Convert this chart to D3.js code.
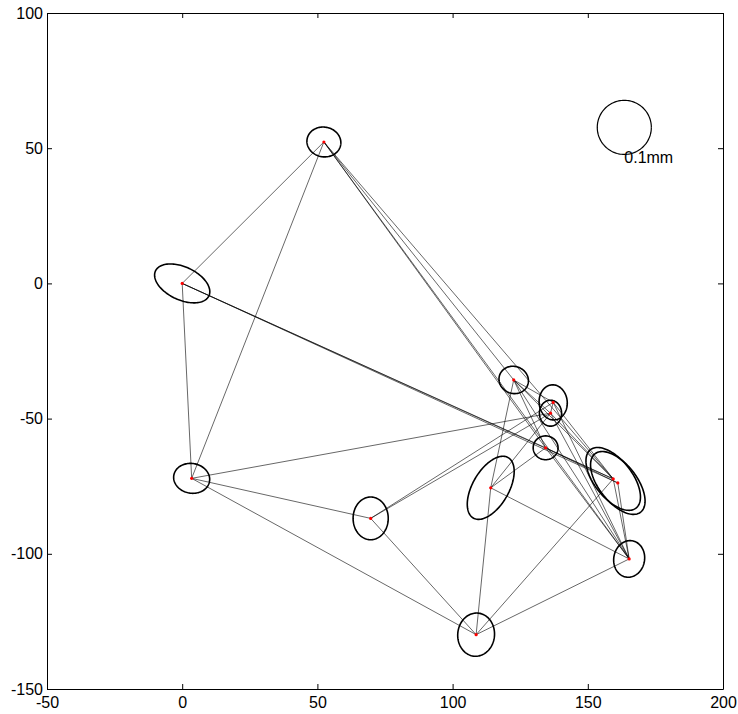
<!DOCTYPE html>
<html>
<head>
<meta charset="utf-8">
<script src="https://cdn.jsdelivr.net/npm/d3@7"></script>
<style>
  body { margin: 0; background: #fff; }
  svg { display: block; }
  .tick text { font-family: Arial, "Liberation Sans", sans-serif; font-size: 16px; fill: #000; }
</style>
</head>
<body>
<svg class="plot" width="738" height="714"></svg>
<script>
// station positions (x, y) in plot units
const ptX = [0, 52.4, 3.5, 69.7, 108.7, 122.6, 137.2, 136.2, 134.4, 114.1, 159.4, 161.1, 165.3]
const ptY = [0, 52.3, -72.1, -86.9, -129.9, -35.7, -44.0, -48.0, -60.8, -75.6, -72.3, -73.8, -101.9]

// error ellipses: semi axes (plot units) and tilt of the major axis in degrees
const semiA = [10.9, 6.3, 6.7, 7.9, 8.0, 5.5, 6.5, 4.8, 4.6, 12.9, 13.7, 13.7, 6.8]
const semiB = [6.1, 5.5, 5.5, 6.5, 6.8, 5.0, 5.2, 4.1, 4.4, 6.7, 7.0, 7.0, 5.7]
const tilt = [-25, -10, -10, 90, 85, -20, 95, 90, 0, 60, -52, -52, 80]

// observed lines between stations
const links = [[0,1],[0,2],[0,8],[0,10],[0,11],[1,2],[1,5],[1,8],[1,10],[1,12],
  [2,3],[2,4],[2,7],[3,4],[3,6],[3,7],[4,9],[4,10],[4,12],[9,5],[9,8],[9,12],[9,7],
  [5,6],[5,7],[5,8],[5,10],[5,12],[6,7],[6,10],[6,12],[7,10],[7,12],[8,10],[8,12],
  [10,12],[11,12],[8,11]]

// scale circle (0.1mm)
const scaleX = 163.5, scaleY = 57.7, scaleR = 10
const scaleLabel = '0.1mm'

const xTicks = [-50, 0, 50, 100, 150, 200]
const yTicks = [-150, -100, -50, 0, 50, 100]

const svg = d3.select('.plot')
const x = d3.scaleLinear().domain([-50, 200]).range([47, 723])
const y = d3.scaleLinear().domain([-150, 100]).range([689, 13])

const line = d3.line().x(d => x(d[0])).y(d => y(d[1]))
const ring = (cx, cy, a, b, deg) => {
  const t = deg * Math.PI / 180
  return d3.range(0, 361, 3).map(k => {
    const u = k * Math.PI / 180
    const ex = a * Math.cos(u), ey = b * Math.sin(u)
    return [cx + ex * Math.cos(t) - ey * Math.sin(t), cy + ex * Math.sin(t) + ey * Math.cos(t)]
  })
}

// axes box, ticks inside like matlab
svg.append('g').attr('transform', `translate(0,${y(-150)})`)
  .call(d3.axisBottom(x).tickValues(xTicks).tickFormat(d => String(d)).tickSizeInner(-5).tickSizeOuter(0).tickPadding(8))
svg.append('g').attr('transform', `translate(${x(-50)},0)`)
  .call(d3.axisLeft(y).tickValues(yTicks).tickFormat(d => String(d)).tickSizeInner(-5).tickSizeOuter(0).tickPadding(4))
svg.append('g').attr('transform', `translate(0,${y(100)})`)
  .call(d3.axisTop(x).tickValues(xTicks).tickSizeInner(-5).tickSizeOuter(0).tickFormat(''))
svg.append('g').attr('transform', `translate(${x(200)},0)`)
  .call(d3.axisRight(y).tickValues(yTicks).tickSizeInner(-5).tickSizeOuter(0).tickFormat(''))
svg.selectAll('.domain, .tick line').attr('stroke', '#000')

svg.append('g').selectAll('line')
  .data(links)
  .join('line')
  .attr('x1', d => x(ptX[d[0]]))
  .attr('y1', d => y(ptY[d[0]]))
  .attr('x2', d => x(ptX[d[1]]))
  .attr('y2', d => y(ptY[d[1]]))
  .attr('stroke', '#000')
  .attr('stroke-width', 0.6)

svg.append('g').selectAll('path')
  .data(ptX)
  .join('path')
  .attr('d', (d, i) => line(ring(ptX[i], ptY[i], semiA[i], semiB[i], tilt[i])))
  .attr('fill', 'none')
  .attr('stroke', '#000')
  .attr('stroke-width', 1.6)

svg.append('g').selectAll('circle')
  .data(ptX)
  .join('circle')
  .attr('cx', (d, i) => x(ptX[i]))
  .attr('cy', (d, i) => y(ptY[i]))
  .attr('r', 1.6)
  .attr('fill', 'red')

svg.append('path')
  .attr('d', line(ring(scaleX, scaleY, scaleR, scaleR, 0)))
  .attr('fill', 'none')
  .attr('stroke', '#000')
  .attr('stroke-width', 1.2)

svg.append('text')
  .attr('x', x(scaleX))
  .attr('y', y(scaleY) + 36)
  .attr('font-family', 'Arial, "Liberation Sans", sans-serif')
  .attr('font-size', 16)
  .text(scaleLabel)
</script>
</body>
</html>
